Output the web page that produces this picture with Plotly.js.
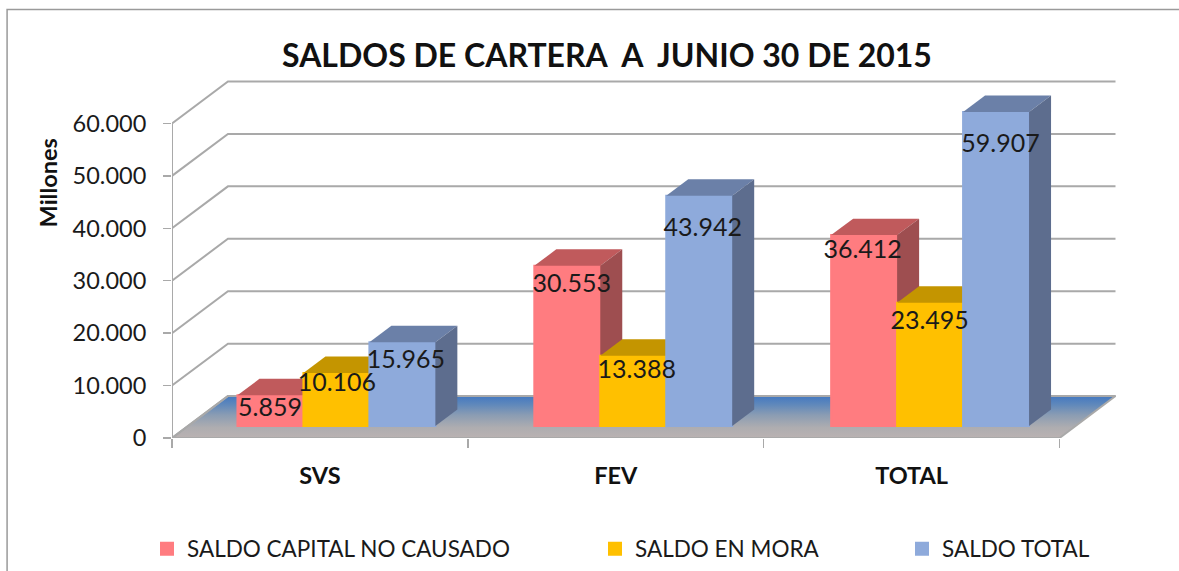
<!DOCTYPE html>
<html><head><meta charset="utf-8">
<script src="https://cdn.plot.ly/plotly-3.0.1.min.js"></script>
<style>html,body{margin:0;padding:0;background:#fff;overflow:hidden}#c{width:1179px;height:571px}</style>
</head><body><div id="c"></div>
<script>
const categories = ['SVS', 'FEV', 'TOTAL'];
const seriesNames = ['SALDO CAPITAL NO CAUSADO', 'SALDO EN MORA', 'SALDO TOTAL'];
const capital = [5859, 30553, 36412];
const mora = [10106, 13388, 23495];
const total = [15965, 43942, 59907];
const yTicks = [0, 10000, 20000, 30000, 40000, 50000, 60000];

const allSeries = [capital, mora, total];
const front = ['#ff7c80', '#ffc000', '#8eaadb'];
const topFace = ['#c05a5c', '#c49500', '#6b80a8'];
const sideFace = ['#9e4e50', '#a37d00', '#5d6d8e'];
// label placement relative to the bar top-centre, in pixels
const labelDrop = [[14, 20, 17], [12, 16, 20], [19, 34, 34]];
const labelDx = [[0, 5, -1], [1, 4, 0], [4, 4, 5]];

const L = 171.5, R = 1125, T = 72, B = 438.5;
const pxX = 296, pxY = 5.25 / 1000;
const xr = [0, (R - L) / pxX], yr = [0, (B - T) / pxY];
const ux = p => p / pxX, uy = p => p / pxY;
const wallX = ux(56), wallY = uy(42);
const barW = 66 / pxX, depthX = ux(22), depthY = uy(16.5);
const baseX = ux(16.5), labelBaseX = ux(16), baseY = uy(12);
const groupStep = ux(297);
const fmt = v => String(v).replace(/\B(?=(\d{3})+$)/g, '.');

const traces = [];
const gridCol = '#a9a9a9';
// floor
traces.push({type:'scatter', mode:'lines', hoverinfo:'skip', showlegend:false, xaxis:'x', yaxis:'y',
  x:[0, 3, 3 + wallX, wallX, 0], y:[0, 0, wallY, wallY, 0], fill:'toself',
  line:{color:gridCol, width:2},
  fillgradient:{type:'vertical', start:0, stop:wallY, colorscale:[[0,'#bab2b2'],[0.25,'#aeadb0'],[0.55,'#8a9cb3'],[0.8,'#5f88bb'],[1,'#4478c0']]}});
// wall grid lines
yTicks.forEach(v => traces.push({type:'scatter', mode:'lines', hoverinfo:'skip', showlegend:false, xaxis:'x', yaxis:'y',
  x:[0, wallX, 3 + wallX], y:[v, v + wallY, v + wallY], line:{color:gridCol, width:2}}));
// value axis line
traces.push({type:'scatter', mode:'lines', hoverinfo:'skip', showlegend:false, xaxis:'x', yaxis:'y',
  x:[0, 0], y:[0, yTicks[yTicks.length - 1]], line:{color:gridCol, width:2}});

allSeries.forEach((vals, s) => {
  const n = s + 2, xa = 'x' + n, ya = 'y' + n;
  const lefts = vals.map((_, i) => 0.5 + i * groupStep + baseX - 1.5 * barW + s * barW);
  traces.push({type:'bar', name:seriesNames[s], xaxis:xa, yaxis:ya, legend: s ? 'legend' + (s + 1) : 'legend',
    x:lefts.map(l => l + barW / 2), y:vals, base:baseY, width:barW,
    marker:{color:front[s], line:{width:2, color:front[s]}}, hoverinfo:'skip', showlegend:true});
  vals.forEach((v, i) => {
    const a = lefts[i], b = a + barW, t = v + baseY;
    traces.push({type:'scatter', mode:'lines', hoverinfo:'skip', showlegend:false, xaxis:xa, yaxis:ya,
      x:[a, b, b + depthX, a + depthX, a], y:[t, t, t + depthY, t + depthY, t],
      fill:'toself', fillcolor:topFace[s], line:{width:0, color:topFace[s]}});
    traces.push({type:'scatter', mode:'lines', hoverinfo:'skip', showlegend:false, xaxis:xa, yaxis:ya,
      x:[b, b + depthX, b + depthX, b, b], y:[baseY, baseY + depthY, t + depthY, t, baseY],
      fill:'toself', fillcolor:sideFace[s], line:{width:0, color:sideFace[s]}});
  });
});
// data labels, on the topmost layer
allSeries.forEach((vals, s) => {
  traces.push({type:'scatter', mode:'text', hoverinfo:'skip', showlegend:false, xaxis:'x4', yaxis:'y4',
    x:vals.map((_, i) => 0.5 + i * groupStep + labelBaseX - 1.5 * barW + (s + 0.5) * barW + ux(labelDx[s][i])),
    y:vals.map((v, i) => v + baseY - uy(labelDrop[s][i])),
    text:vals.map(fmt), textposition:'middle center', cliponaxis:false,
    textfont:{family:'Lato, Carlito, sans-serif', size:25, color:'#1a1a1a'}});
});

const hidden = o => Object.assign({range:xr, fixedrange:true, visible:false}, o);
const layout = {
  width:1179, height:571, paper_bgcolor:'#fff', plot_bgcolor:'rgba(0,0,0,0)', separators:',.',
  margin:{l:L, r:1179 - R, t:T, b:571 - B, pad:0}, barmode:'overlay',
  font:{family:'Lato, Carlito, sans-serif', color:'#1a1a1a'},
  title:{text:'SALDOS DE CARTERA  A  JUNIO 30 DE 2015', x:607 / 1179, xanchor:'center', y:1 - 56 / 571, yanchor:'middle',
    font:{family:'Lato, Carlito, sans-serif', size:32, weight:700, color:'#111'}},
  xaxis:{range:xr, fixedrange:true, showgrid:false, zeroline:false, showline:false,
    tickmode:'array', tickvals:categories.map((_, i) => i + 0.5), ticktext:categories, ticks:'',
    ticklabelstandoff:21, tickfont:{size:23.5, weight:700, color:'#111'},
    minor:{tickmode:'array', tickvals:categories.map((_, i) => i).concat(categories.length), ticks:'outside', ticklen:9, tickwidth:1.5, tickcolor:gridCol, showgrid:false}},
  yaxis:{range:yr, fixedrange:true, showgrid:false, zeroline:false, showline:false,
    tickmode:'array', tickvals:yTicks, tickformat:',d', ticks:'outside', ticklen:8, tickwidth:1.5, tickcolor:gridCol,
    ticklabelstandoff:12, tickfont:{size:23.5, color:'#1a1a1a'}},
  annotations:[{text:'<b>Millones</b>', xref:'paper', yref:'paper', x:(47 - L) / (R - L), y:(B - 183) / (B - T), showarrow:false,
    textangle:-90, xanchor:'center', yanchor:'middle', font:{size:23.5, color:'#111'}}],
  shapes:[{type:'rect', xref:'paper', yref:'paper', layer:'below',
    x0:(6.5 - L) / (R - L), x1:(1200 - L) / (R - L), y0:(B - 600) / (B - T), y1:(B - 9.5) / (B - T),
    line:{color:'#9a9a9a', width:1.5}, fillcolor:'rgba(0,0,0,0)'}]
};
[2, 3, 4].forEach(n => {
  layout['xaxis' + n] = hidden({overlaying:'x', anchor:'y' + n});
  layout['yaxis' + n] = {range:yr, fixedrange:true, visible:false, overlaying:'y', anchor:'x' + n};
});
const legY = 1 - 549 / 571;
const legCommon = {orientation:'h', yref:'container', xref:'container', yanchor:'middle', bgcolor:'rgba(0,0,0,0)', font:{size:22.5, color:'#1a1a1a'}, itemclick:false, itemdoubleclick:false};
layout.legend = Object.assign({x:147 / 1179, y:legY}, legCommon);
layout.legend2 = Object.assign({x:595 / 1179, y:legY}, legCommon);
layout.legend3 = Object.assign({x:902 / 1179, y:legY}, legCommon);
Plotly.newPlot('c', traces, layout, {displayModeBar:false, staticPlot:true});
</script></body></html>
